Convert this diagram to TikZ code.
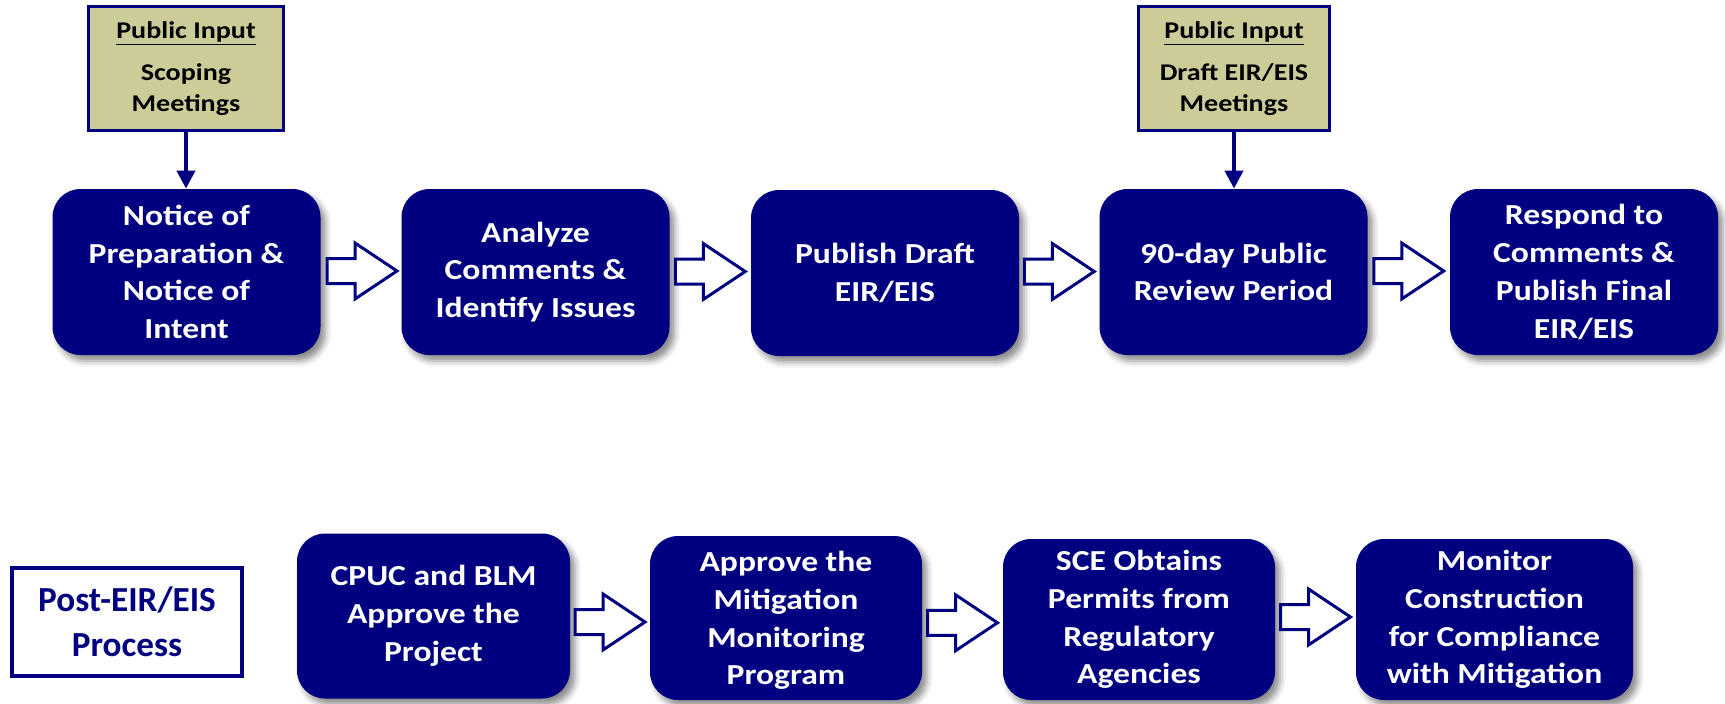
\documentclass[tikz,border=0pt]{standalone}
\usepackage{fontspec}
\setmainfont{Carlito}
\newfontfamily\widefont{Carlito}[FakeStretch=1.16]
\newfontfamily\wideyfont{Carlito}[FakeStretch=1.17]
\usetikzlibrary{arrows.meta,shadows.blur,calc}
\definecolor{navyb}{RGB}{0,0,128}
\definecolor{khakib}{RGB}{204,204,153}
\begin{document}
\begin{tikzpicture}[x=0.5pt,y=-0.5pt,
  mainbox/.style={rectangle, rounded corners=14pt, fill=navyb, text=white,
    font=\widefont\fontsize{14.5}{18.9}\selectfont\bfseries, align=center,
    minimum width=134pt, minimum height=83pt, inner sep=0pt,
    blur shadow={shadow xshift=2.5pt, shadow yshift=-3pt, shadow blur radius=3pt, shadow opacity=45}},
  inputbox/.style={rectangle, draw=navyb, line width=1.6pt, fill=khakib, text=black,
    font=\wideyfont\fontsize{12}{15.4}\selectfont\bfseries, align=center,
    minimum height=62pt, inner sep=0pt},
  postbox/.style={rectangle, draw=navyb, line width=2pt, fill=white, text=navyb,
    font=\fontsize{17.6}{22.5}\selectfont\bfseries, align=center,
    minimum width=115pt, minimum height=54pt, inner sep=0pt},
  feed/.style={draw=navyb, line width=2pt, -{Triangle[width=9pt,length=9pt]}},
  hollowarrow/.pic={\draw[navyb, line width=1.5pt, fill=white, line join=miter]
    (-35,12.5) -- (-7,12.5) -- (-7,28) -- (35,0) -- (-7,-28) -- (-7,-12.5) -- (-35,-12.5) -- cycle;}
]
\useasboundingbox (0,0) rectangle (1725,703);

% public input boxes
\node[inputbox, minimum width=97.5pt] (y1) at (186,68.5) {\underline{Public Input}\\[6pt]Scoping\\Meetings};
\node[inputbox, minimum width=95.5pt] (y2) at (1234,68.5) {\underline{Public Input}\\[6pt]Draft EIR/EIS\\Meetings};

% top row
\node[mainbox] (b1) at (186.5,272) {Notice of\\Preparation \&\\Notice of\\Intent};
\node[mainbox] (b2) at (535.5,272) {Analyze\\Comments \&\\Identify Issues};
\node[mainbox] (b3) at (885,273) {Publish Draft\\EIR/EIS};
\node[mainbox] (b4) at (1233.5,272) {90-day Public\\Review Period};
\node[mainbox] (b5) at (1584,272) {Respond to\\Comments \&\\Publish Final\\EIR/EIS};

% bottom row
\node[postbox] (post) at (127,622) {Post-EIR/EIS\\Process};
\node[mainbox, minimum width=136.5pt, minimum height=82.5pt] (c1) at (433.5,616) {CPUC and BLM\\Approve the\\Project};
\node[mainbox, minimum width=136pt, minimum height=82pt, text depth=0pt] (c2) at (786,618) {\raisebox{0pt}{}Approve the\\Mitigation\\Monitoring\\Program};
\node[mainbox, minimum width=136pt, minimum height=80.5pt] (c3) at (1139,619.5) {SCE Obtains\\Permits from\\Regulatory\\Agencies};
\node[mainbox, minimum width=138.5pt, minimum height=80.5pt] (c4) at (1494.5,619.5) {Monitor\\Construction\\for Compliance\\with Mitigation};

% feed arrows
\draw[feed] (y1.south) -- (y1.south |- b1.north);
\draw[feed] (y2.south) -- (y2.south |- b4.north);

% hollow block arrows
\pic at ($(b1.east)!0.5!(b2.west)+(1,-1)$) {hollowarrow};
\pic at ($(b2.east)!0.5!(b3.west)+(0,-1)$) {hollowarrow};
\pic at ($(b3.east)!0.5!(b4.west)+(0,-1)$) {hollowarrow};
\pic at ($(b4.east)!0.5!(b5.west)+(0,-1)$) {hollowarrow};
\pic at ($(c1.east)!0.5!(c2.west)+(0,5)$) {hollowarrow};
\pic at ($(c2.east)!0.5!(c3.west)+(0,4)$) {hollowarrow};
\pic at ($(c3.east)!0.5!(c4.west)+(0,-2.5)$) {hollowarrow};
\end{tikzpicture}
\end{document}
